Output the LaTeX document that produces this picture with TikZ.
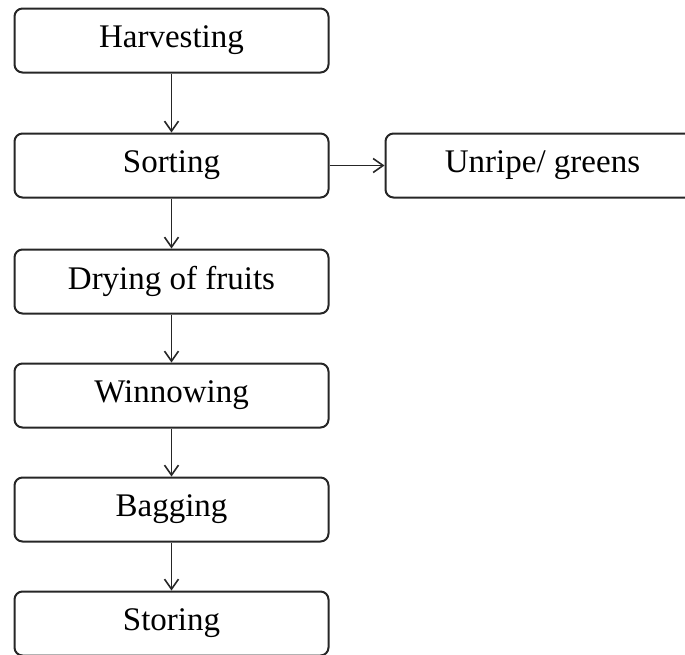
\documentclass[tikz,border=0pt]{standalone}
\usepackage{fontspec}
\setmainfont{Liberation Serif}
\usepackage{tikz}
\usetikzlibrary{arrows.meta,positioning}

\begin{document}
\begin{tikzpicture}[
    >={Straight Barb[length=5pt,width=7pt]},
    node distance=24pt and 27.5pt,
    every node/.style={font=\fontsize{16.5}{19}\selectfont, align=center},
    stagebox/.style={draw=black!85, line width=1pt, rounded corners=4pt, minimum height=32pt, minimum width=157pt, fill=white},
    flow/.style={->, draw=black!85, line width=0.8pt}
]
    \useasboundingbox (0,0) rectangle (342.5pt,-327pt);
    \node[stagebox] (harvest) at (85.75pt,-20.25pt) {Harvesting};
    \node[stagebox, below=29.5pt of harvest] (sort) {Sorting};
    \node[stagebox, right=of sort] (unripe) {Unripe/ greens};
    \node[stagebox, below=25pt of sort] (dry) {Drying of fruits};
    \node[stagebox, below=of dry] (winnow) {Winnowing};
    \node[stagebox, below=of winnow] (bag) {Bagging};
    \node[stagebox, below=of bag] (store) {Storing};

    \draw[flow] (harvest) -- (sort);
    \draw[flow] (sort) -- (unripe);
    \draw[flow] (sort) -- (dry);
    \draw[flow] (dry) -- (winnow);
    \draw[flow] (winnow) -- (bag);
    \draw[flow] (bag) -- (store);
\end{tikzpicture}
\end{document}
